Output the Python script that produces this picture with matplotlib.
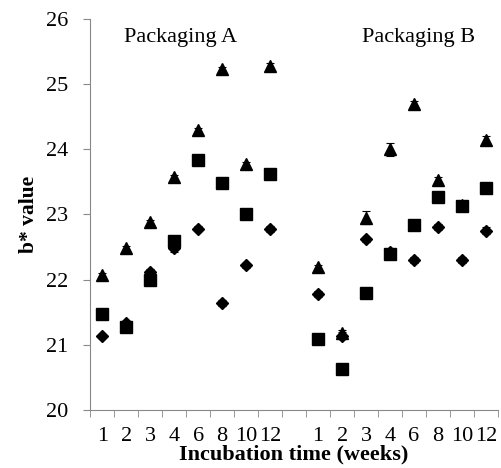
import numpy as np
import matplotlib.pyplot as plt

plt.rcParams['font.family'] = ['Liberation Serif', 'DejaVu Serif']

weeks = ["1", "2", "3", "4", "6", "8", "10", "12"]

# Packaging A
tri_a = [22.07, 22.48, 22.88, 23.58, 24.30, 25.23, 23.78, 25.28]
sq_a = [21.47, 21.27, 21.99, 22.60, 23.83, 23.49, 23.01, 23.62]
dia_a = [21.13, 21.33, 22.12, 22.48, 22.78, 21.64, 22.22, 22.78]
tri_a_err = [0.03, 0.03, 0.04, 0.03, 0.03, 0.03, 0.03, 0.04]
sq_a_err = [0.04, 0.05, 0.04, 0.06, 0.03, 0.03, 0.03, 0.03]
dia_a_err = [0.03, 0.04, 0.05, 0.06, 0.04, 0.05, 0.04, 0.05]

# Packaging B
tri_b = [22.19, 21.18, 22.95, 24.00, 24.70, 23.53, 23.15, 24.15]
sq_b = [21.09, 20.63, 21.80, 22.39, 22.84, 23.27, 23.13, 23.40]
dia_b = [21.78, 21.14, 22.62, 22.42, 22.30, 22.81, 22.30, 22.75]
tri_b_err = [0.03, 0.04, 0.10, 0.10, 0.04, 0.04, 0.04, 0.05]
sq_b_err = [0.06, 0.03, 0.03, 0.03, 0.03, 0.04, 0.04, 0.03]
dia_b_err = [0.04, 0.05, 0.04, 0.04, 0.04, 0.05, 0.05, 0.05]

fig = plt.figure(figsize=(5.01, 4.68), dpi=100)
ax = fig.add_axes([0.18, 0.124, 0.814, 0.8355])

xa = np.arange(8)
xb = np.arange(9, 17)

kw = dict(ls='none', color='black', ecolor='black', elinewidth=0.8, capsize=3, capthick=0.8)
for x, tri, te, sq, se, dia, de in [(xa, tri_a, tri_a_err, sq_a, sq_a_err, dia_a, dia_a_err),
                                    (xb, tri_b, tri_b_err, sq_b, sq_b_err, dia_b, dia_b_err)]:
    ax.errorbar(x, dia, yerr=de, marker='D', ms=6, **kw)
    ax.errorbar(x, sq, yerr=se, marker='s', ms=8, **kw)
    ax.errorbar(x, tri, yerr=te, marker='^', ms=8, **kw)

ax.set_xlim(-0.5, 16.5)
ax.set_ylim(20, 26)
ax.set_yticks(range(20, 27))
ax.set_xticks(list(xa) + list(xb))
ax.set_xticklabels(weeks + weeks)
ax.set_xticks(np.arange(-0.5, 17, 1), minor=True)
ax.tick_params(axis='x', which='major', length=0, labelsize=16, pad=12.5)
ax.tick_params(axis='x', which='minor', length=5, color='#888888', direction='out')
ax.tick_params(axis='y', length=5, color='#888888', labelsize=16, direction='out', pad=11)

for s in ['top', 'right']:
    ax.spines[s].set_visible(False)
for s in ['left', 'bottom']:
    ax.spines[s].set_color('#888888')

ax.set_ylabel("b* value", fontsize=15.5, fontweight='bold')
ax.yaxis.set_label_coords(-0.125, 0.5)
ax.set_xlabel("Incubation time (weeks)", fontsize=16, fontweight='bold')
ax.xaxis.set_label_coords(0.5, -0.0895)

ax.text(3.25, 25.71, "Packaging A", fontsize=16, ha='center', va='center')
ax.text(13.19, 25.71, "Packaging B", fontsize=16, ha='center', va='center')

fig.savefig("out.png", dpi=100)
